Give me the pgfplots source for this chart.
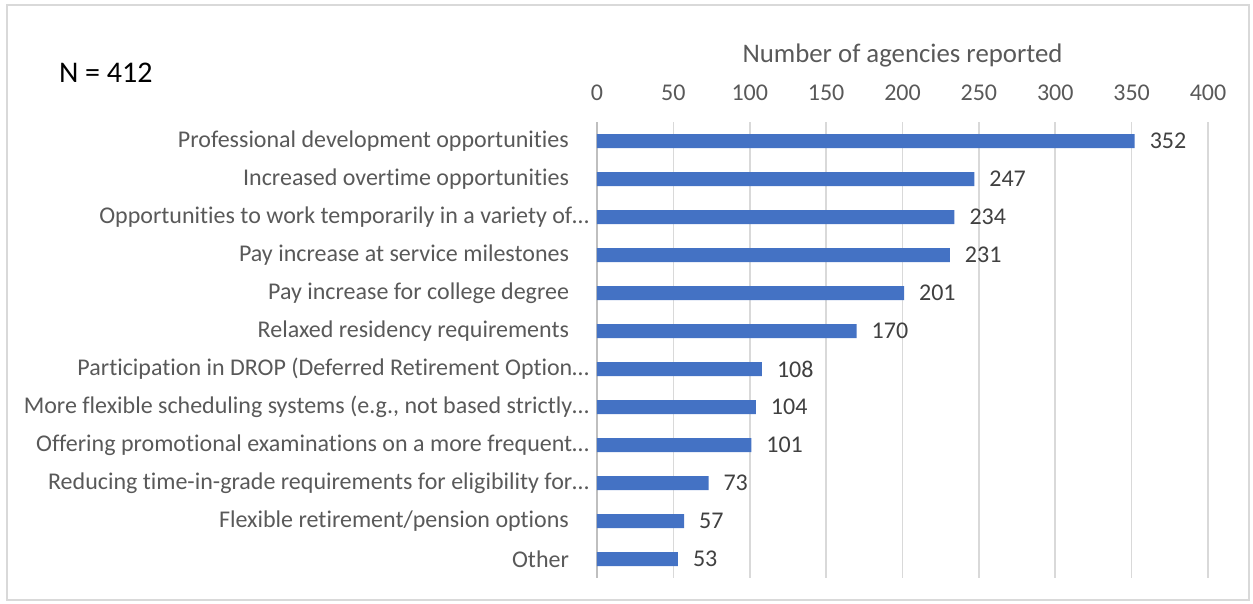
\documentclass[border=0pt]{standalone}
\usepackage{fontspec}
\setmainfont{Carlito}[Ligatures=NoCommon]
\usepackage{pgfplots}
\pgfplotsset{compat=1.18}
\definecolor{barblue}{HTML}{4472C4}
\definecolor{txtgray}{HTML}{595959}
\definecolor{valgray}{HTML}{404040}
\definecolor{gridgray}{HTML}{D9D9D9}
\definecolor{axgray}{HTML}{BFBFBF}
\newcommand{\lbl}{\fontsize{12}{14}\selectfont}
\newcommand{\trail}{\kern10pt}
\begin{document}
\begin{tikzpicture}[x=0.5pt,y=-0.5pt]
\useasboundingbox (0,0) rectangle (1253,604);
\draw[gridgray, line width=0.8pt] (7,5) rectangle (1249,600);
\node[anchor=west, font=\fontsize{15}{17}\selectfont, text=black] at (52,73) {N = 412};
\begin{axis}[
  at={(298.5pt,-61pt)}, anchor=north west,
  scale only axis, width=305.5pt, height=228pt,
  clip=false,
  xbar, bar width=7pt,
  xmin=0, xmax=400,
  ymin=-0.5, ymax=11.5, y dir=reverse,
  xtick={0,50,...,400},
  xticklabel pos=upper,
  ytick={0,...,11},
  yticklabels={
    Professional development opportunities\trail,
    Increased overtime opportunities\trail,
    Opportunities to work temporarily in a variety of…,
    Pay increase at service milestones\trail,
    Pay increase for college degree\trail,
    Relaxed residency requirements\trail,
    Participation in DROP (Deferred Retirement Option…,
    {More flexible scheduling systems (e.g., not based strictly…},
    Offering promotional examinations on a more frequent…,
    Reducing time-in-grade requirements for eligibility for…,
    Flexible retirement/pension options\trail,
    Other\trail
  },
  major tick length=0pt,
  axis line style={draw=none},
  xmajorgrids, grid style={gridgray, line width=0.8pt},
  extra x ticks={0}, extra x tick labels={},
  extra x tick style={grid style={axgray, line width=0.8pt}},
  /pgf/number format/assume math mode=true,
  xticklabel style={font=\lbl, text=txtgray, yshift=7pt},
  yticklabel style={font=\lbl, text=txtgray, xshift=-0.5pt},
  nodes near coords,
  every node near coord/.append style={font=\lbl, text=valgray, anchor=west, xshift=4pt},
]
\addplot[fill=barblue, draw=none] coordinates {
  (352,0) (247,1) (234,2) (231,3) (201,4) (170,5)
  (108,6) (104,7) (101,8) (73,9) (57,10) (53,11)
};
\node[font=\fontsize{13.4}{15}\selectfont, text=txtgray, anchor=base] at (rel axis cs:0.5,1) [yshift=30pt] {Number of agencies reported};
\end{axis}
\end{tikzpicture}
\end{document}
